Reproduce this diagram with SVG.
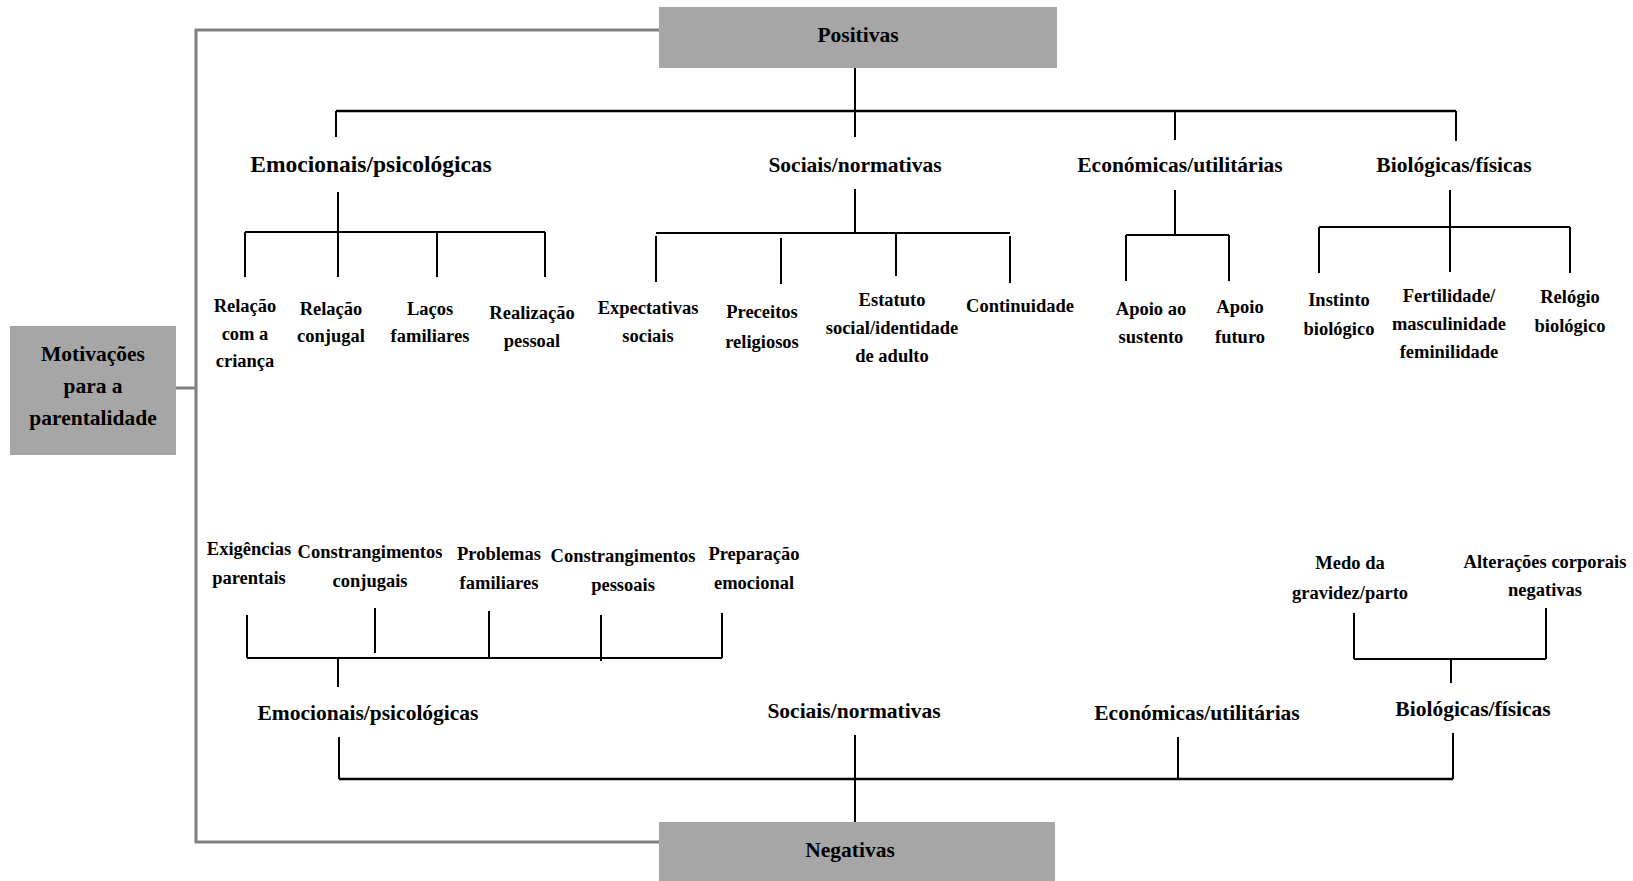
<svg xmlns="http://www.w3.org/2000/svg" width="1633" height="881" viewBox="0 0 1633 881">
<style>
text{font-family:"Liberation Serif","Times New Roman",serif;font-weight:bold;fill:#000;text-anchor:middle}
.s{font-size:18.5px}
.h{font-size:21.5px}
.big{font-size:23.5px}
.box{fill:#a6a6a6}
.g{stroke:#808080;stroke-width:3;fill:none}
.k{stroke:#000;stroke-width:2;fill:none}
.kk{stroke:#000;stroke-width:2.5;fill:none}
</style>
<rect width="1633" height="881" fill="#fff"/>
<g id="connectors">
<path class="g" d="M659,30 H196 V842 H659 M176,388 H196"/>
<path class="k" d="M855,68 V137 M336,111 V137 M1175,111 V140 M1456,111 V141"/>
<path class="kk" d="M336,111 H1456"/>
<path class="k" d="M338,192 V232 M245,232 H545 M245,232 V277 M338,232 V277 M437,232 V277 M545,232 V277"/>
<path class="k" d="M855,189 V233 M656,233 H1010 M656,236 V282 M781,238 V284 M896,233 V276 M1010,236 V283"/>
<path class="k" d="M1175,190 V235 M1126,235 H1229 M1126,235 V281 M1229,235 V281"/>
<path class="k" d="M1450,190 V272 M1319,227 H1570 M1319,227 V273 M1570,227 V273"/>
<path class="k" d="M247,615 V658 M375,608 V653 M489,611 V657 M601,615 V661 M722,613 V658 M247,658 H722 M338,658 V687"/>
<path class="k" d="M1354,613 V659 M1546,608 V659 M1354,659 H1546 M1451,659 V683"/>
<path class="k" d="M339,737 V779 M855,735 V822 M1178,737 V779 M1453,733 V779"/>
<path class="kk" d="M339,779 H1453"/>
</g>
<g id="positivas"><rect class="box" x="659" y="7" width="398" height="61"/><text class="h" x="858" y="42">Positivas</text></g>
<g id="motivacoes"><rect class="box" x="10" y="326" width="166" height="129"/><text class="h" x="93" y="361">Motivações</text><text class="h" x="93" y="393">para a</text><text class="h" x="93" y="425">parentalidade</text></g>
<g id="negativas"><rect class="box" x="659" y="822" width="396" height="59"/><text class="h" x="850" y="857">Negativas</text></g>
<g id="pos-emocionais"><text class="big" x="371" y="172">Emocionais/psicológicas</text></g>
<g id="pos-sociais"><text class="h" x="855" y="172">Sociais/normativas</text></g>
<g id="pos-economicas"><text class="h" x="1180" y="172">Económicas/utilitárias</text></g>
<g id="pos-biologicas"><text class="h" x="1454" y="172">Biológicas/físicas</text></g>
<g id="relacao-crianca"><text class="s" x="245" y="312">Relação</text><text class="s" x="245" y="340">com a</text><text class="s" x="245" y="367">criança</text></g>
<g id="relacao-conjugal"><text class="s" x="331" y="315">Relação</text><text class="s" x="331" y="342">conjugal</text></g>
<g id="lacos-familiares"><text class="s" x="430" y="315">Laços</text><text class="s" x="430" y="342">familiares</text></g>
<g id="realizacao-pessoal"><text class="s" x="532" y="319">Realização</text><text class="s" x="532" y="347">pessoal</text></g>
<g id="expectativas"><text class="s" x="648" y="314">Expectativas</text><text class="s" x="648" y="342">sociais</text></g>
<g id="preceitos"><text class="s" x="762" y="318">Preceitos</text><text class="s" x="762" y="348">religiosos</text></g>
<g id="estatuto"><text class="s" x="892" y="306">Estatuto</text><text class="s" x="892" y="334">social/identidade</text><text class="s" x="892" y="362">de adulto</text></g>
<g id="continuidade"><text class="s" x="1020" y="312">Continuidade</text></g>
<g id="apoio-sustento"><text class="s" x="1151" y="315">Apoio ao</text><text class="s" x="1151" y="343">sustento</text></g>
<g id="apoio-futuro"><text class="s" x="1240" y="313">Apoio</text><text class="s" x="1240" y="343">futuro</text></g>
<g id="instinto"><text class="s" x="1339" y="306">Instinto</text><text class="s" x="1339" y="335">biológico</text></g>
<g id="fertilidade"><text class="s" x="1449" y="302">Fertilidade/</text><text class="s" x="1449" y="330">masculinidade</text><text class="s" x="1449" y="358">feminilidade</text></g>
<g id="relogio"><text class="s" x="1570" y="303">Relógio</text><text class="s" x="1570" y="332">biológico</text></g>
<g id="exigencias"><text class="s" x="249" y="555">Exigências</text><text class="s" x="249" y="584">parentais</text></g>
<g id="constr-conjugais"><text class="s" x="370" y="558">Constrangimentos</text><text class="s" x="370" y="587">conjugais</text></g>
<g id="problemas"><text class="s" x="499" y="560">Problemas</text><text class="s" x="499" y="589">familiares</text></g>
<g id="constr-pessoais"><text class="s" x="623" y="562">Constrangimentos</text><text class="s" x="623" y="591">pessoais</text></g>
<g id="preparacao"><text class="s" x="754" y="560">Preparação</text><text class="s" x="754" y="589">emocional</text></g>
<g id="medo"><text class="s" x="1350" y="569">Medo da</text><text class="s" x="1350" y="599">gravidez/parto</text></g>
<g id="alteracoes"><text class="s" x="1545" y="568">Alterações corporais</text><text class="s" x="1545" y="596">negativas</text></g>
<g id="neg-emocionais"><text class="h" x="368" y="720">Emocionais/psicológicas</text></g>
<g id="neg-sociais"><text class="h" x="854" y="718">Sociais/normativas</text></g>
<g id="neg-economicas"><text class="h" x="1197" y="720">Económicas/utilitárias</text></g>
<g id="neg-biologicas"><text class="h" x="1473" y="716">Biológicas/físicas</text></g>
</svg>
